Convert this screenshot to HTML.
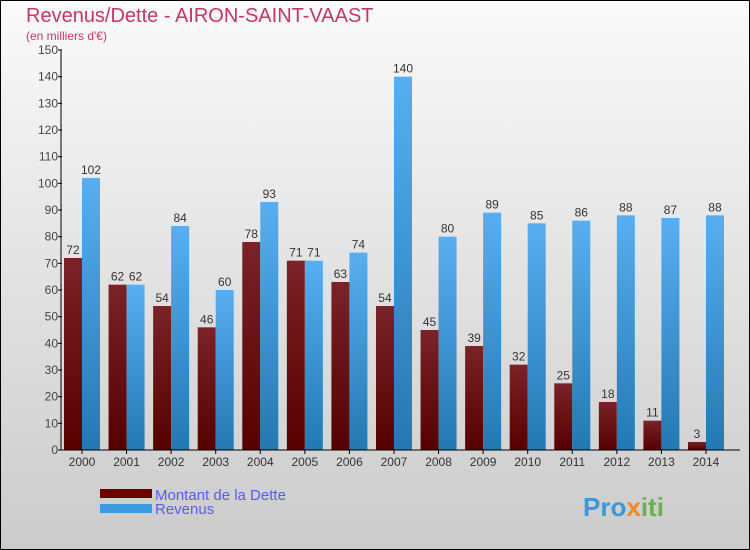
<!DOCTYPE html>
<html><head><meta charset="utf-8"><style>
body{margin:0}
#c{width:750px;height:550px;position:relative;overflow:hidden;font-family:"Liberation Sans","DejaVu Sans",sans-serif}
</style></head><body>
<div id="c">
<svg id="s" width="750" height="550" xmlns="http://www.w3.org/2000/svg">
<defs>
<linearGradient id="bg" x1="0" y1="0" x2="0" y2="1"><stop offset="0" stop-color="#fafafa"/><stop offset="1" stop-color="#cbcbcb"/></linearGradient>
<linearGradient id="gd" x1="0" y1="0" x2="0" y2="1"><stop offset="0" stop-color="#7a2328"/><stop offset="1" stop-color="#560000"/></linearGradient>
<linearGradient id="gr" x1="0" y1="0" x2="0" y2="1"><stop offset="0" stop-color="#58aef0"/><stop offset="1" stop-color="#2478b2"/></linearGradient>
</defs>
<rect x="0.5" y="0.5" width="749" height="549" fill="url(#bg)" stroke="#000"/>
<text x="26" y="22" font-size="20" fill="#c8336a">Revenus/Dette - AIRON-SAINT-VAAST</text>
<text x="26" y="40" font-size="12" fill="#c8336a">(en milliers d'€)</text>
<g id="bars"></g>
<g id="axes"></g>
<rect x="100" y="489" width="52" height="9" fill="#6a0000"/>
<rect x="100" y="504" width="52" height="9" fill="#3b9ae0"/>
<text x="155" y="500" font-size="15" fill="#5a5af0">Montant de la Dette</text>
<text x="155" y="514" font-size="15" fill="#5a5af0">Revenus</text>
<text x="583" y="516" font-size="26" font-weight="bold" fill="#3a9ad8">Pro<tspan fill="#f08a20">x</tspan><tspan fill="#6ab04c">iti</tspan></text>
</svg>
</div>
<script>
const years=[2000,2001,2002,2003,2004,2005,2006,2007,2008,2009,2010,2011,2012,2013,2014];
const dette=[72,62,54,46,78,71,63,54,45,39,32,25,18,11,3];
const revenus=[102,62,84,60,93,71,74,140,80,89,85,86,88,87,88];
const yTicks=[0,10,20,30,40,50,60,70,80,90,100,110,120,130,140,150];
const NS="http://www.w3.org/2000/svg";
const y0=450,yTop=50,yMax=150;
function y(v){return y0-(v/yMax)*(y0-yTop);}
function xc(i){return 82+i*44.57;}
const bars=document.getElementById('bars'),axes=document.getElementById('axes');
function mk(p,tag,attrs,txt){const e=document.createElementNS(NS,tag);for(const k in attrs)e.setAttribute(k,attrs[k]);if(txt!==undefined)e.textContent=txt;p.appendChild(e);return e;}
years.forEach((yr,i)=>{
 const cx=xc(i);
 const d=mk(bars,'rect',{x:cx-18,y:y(dette[i]),width:18,height:y0-y(dette[i]),fill:'url(#gd)'});
 
 
 const r=mk(bars,'rect',{x:cx,y:y(revenus[i]),width:18,height:y0-y(revenus[i]),fill:'url(#gr)'});
 
 
 const t1=mk(bars,'text',{x:cx-9,y:y(dette[i])-4,'font-size':12,'text-anchor':'middle',fill:'#333'},dette[i]);
 
 
 const t2=mk(bars,'text',{x:cx+9,y:y(revenus[i])-4,'font-size':12,'text-anchor':'middle',fill:'#333'},revenus[i]);
 
 
 const xl=mk(axes,'text',{x:cx,y:466,'font-size':12,'text-anchor':'middle',fill:'#333'},yr);
 
 
 const tk=mk(axes,'line',{x1:cx,x2:cx,y1:450,y2:454,stroke:'#000'});
 
 
});
yTicks.forEach(v=>{
 const l=mk(axes,'line',{x1:58,x2:62,y1:y(v),y2:y(v),stroke:'#000'});
 
 
 const t=mk(axes,'text',{x:58,y:y(v)+4,'font-size':12,'text-anchor':'end',fill:'#444'},v);
 
 
});
const ya=mk(axes,'line',{x1:61,x2:61,y1:50,y2:450,stroke:'#000'});


const xa=mk(axes,'line',{x1:61,x2:740,y1:450,y2:450,stroke:'#000'});


</script>
</body></html>
